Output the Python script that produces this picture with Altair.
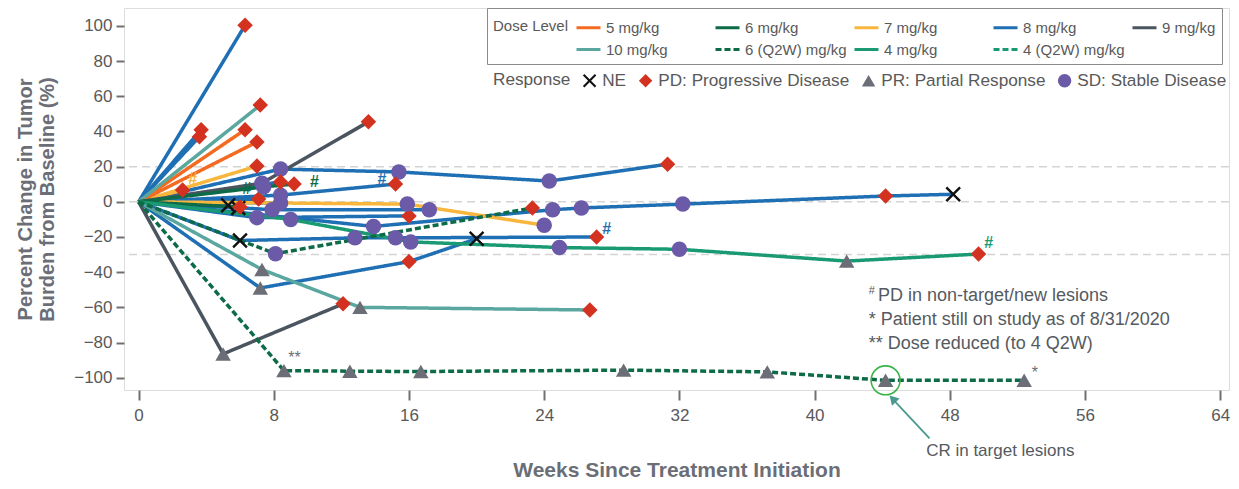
import altair as alt
import pandas as pd

FONT = "Liberation Sans"

# ---------------- categories / styles ----------------
DOSES = ["5 mg/kg", "6 mg/kg", "7 mg/kg", "8 mg/kg", "9 mg/kg",
         "10 mg/kg", "6 (Q2W) mg/kg", "4 mg/kg", "4 (Q2W) mg/kg"]
DOSE_COLORS = ["#f26b21", "#0e6b47", "#f8b63c", "#1f6fb4", "#4b5560",
               "#5aa7a0", "#0e6b47", "#199a72", "#199a72"]
DOSE_DASH = [[1, 0], [1, 0], [1, 0], [1, 0], [1, 0], [1, 0], [6, 3], [1, 0], [6, 3]]

RESP_CODES = ["NE", "PD", "PR", "SD"]
RESP = ["NE", "PD: Progressive Disease", "PR: Partial Response", "SD: Stable Disease"]
RESP_COLORS = ["#111111", "#d2321f", "#6b6e76", "#6a5aa8"]
X_PATH = ("M-1,-0.78L-0.78,-1L0,-0.22L0.78,-1L1,-0.78L0.22,0L1,0.78L0.78,1"
          "L0,0.22L-0.78,1L-1,0.78L-0.22,0Z")
RESP_SHAPES = [X_PATH, "diamond", "triangle-up", "circle"]

X_TICKS = [0, 8, 16, 24, 32, 40, 48, 56, 64]
Y_TICKS = [-100, -80, -60, -40, -20, 0, 20, 40, 60, 80, 100]
GRID_Y = [20, 0, -30]

# ---------------- patient series (weeks, % change, response) ----------------
# 8 mg/kg
B01_W = [0, 6.3];   B01_Y = [0, 100.4]; B01_R = [None, "PD"]
B02_W = [0, 3.7];   B02_Y = [0, 41];    B02_R = [None, "PD"]
B03_W = [0, 3.6];   B03_Y = [0, 37];    B03_R = [None, "PD"]
B04_W = [0, 8.4, 15.4, 24.3, 31.3]; B04_Y = [0, 18.6, 17, 11.8, 21.4]; B04_R = [None, "SD", "SD", "SD", "PD"]
B05_W = [0, 8.4, 15.2]; B05_Y = [0, 3.8, 10.1]; B05_R = [None, "SD", "PD"]
B06_W = [0, 7.9, 17.2]; B06_Y = [0, -4.5, -4.5]; B06_R = [None, "SD", "SD"]
B07_W = [0, 7.0, 16.0]; B07_Y = [0, -9, -8]; B07_R = [None, "SD", "PD"]
B08_W = [0, 13.9, 24.5, 26.2, 32.2, 44.2, 48.2]
B08_Y = [0, -14, -4.5, -3.5, -1.3, 3.3, 4.3]
B08_R = [None, "SD", "SD", "SD", "SD", "PD", "NE"]
B09_W = [0, 6.0, 12.8, 15.2, 27.1]; B09_Y = [0, -22, -20.5, -20.5, -20]; B09_R = [None, "NE", "SD", "SD", "PD"]
B10_W = [0, 7.2, 16.0, 20.0]; B10_Y = [0, -49, -34, -21]; B10_R = [None, "PR", "PD", "NE"]
B11_W = [0, 5.3]; B11_Y = [0, -2];   B11_R = [None, "NE"]
B12_W = [0, 5.9]; B12_Y = [0, -3.5]; B12_R = [None, "NE"]
B13_W = [0, 7.1]; B13_Y = [0, 1.6];  B13_R = [None, "PD"]
B14_W = [0, 8.4]; B14_Y = [0, 11.3]; B14_R = [None, "PD"]
B15_W = [0, 8.4]; B15_Y = [0, -0.7]; B15_R = [None, "SD"]
# 7 mg/kg
Y01_W = [0, 7.0]; Y01_Y = [0, 20.3]; Y01_R = [None, "PD"]
Y02_W = [0, 2.6]; Y02_Y = [0, 6.7];  Y02_R = [None, "PD"]
Y03_W = [0, 15.9, 24.0]; Y03_Y = [0, -1.3, -13.3]; Y03_R = [None, "SD", "SD"]
# 5 mg/kg
O01_W = [0, 6.3]; O01_Y = [0, 41]; O01_R = [None, "PD"]
O02_W = [0, 7.0]; O02_Y = [0, 34]; O02_R = [None, "PD"]
# 10 mg/kg
T01_W = [0, 7.2]; T01_Y = [0, 55]; T01_R = [None, "PD"]
T02_W = [0, 7.3, 13.1, 26.7]; T02_Y = [0, -38.5, -60, -61.5]; T02_R = [None, "PR", "PR", "PD"]
# 9 mg/kg
G01_W = [0, 7.3, 13.6]; G01_Y = [0, 10.6, 45.5]; G01_R = [None, "SD", "PD"]
G02_W = [0, 5.0, 12.1]; G02_Y = [0, -86.5, -58]; G02_R = [None, "PR", "PD"]
# 6 mg/kg
D01_W = [0, 7.4, 9.2]; D01_Y = [0, 8.5, 10.1]; D01_R = [None, "SD", "PD"]
D02_W = [0, 6.0]; D02_Y = [0, -3]; D02_R = [None, "PD"]
# 4 mg/kg
F01_W = [0, 9.0, 16.1, 24.9, 32.0, 41.9, 49.7]
F01_Y = [0, -10, -22.8, -26, -27, -33.7, -29.7]
F01_R = [None, "SD", "SD", "SD", "SD", "PR", "PD"]
# 6 (Q2W) mg/kg
Q01_W = [0, 8.1, 23.3]; Q01_Y = [0, -29.5, -3.5]; Q01_R = [None, "SD", "PD"]
Q02_W = [0, 8.6, 12.5, 16.7, 28.7, 37.2, 44.2, 52.4]
Q02_Y = [0, -96, -96.3, -96.5, -95.7, -96.7, -101.5, -101.5]
Q02_R = [None, "PR", "PR", "PR", "PR", "PR", "PR", "PR"]

PATIENTS = [
    ("B01", "8 mg/kg", B01_W, B01_Y, B01_R), ("B02", "8 mg/kg", B02_W, B02_Y, B02_R),
    ("B03", "8 mg/kg", B03_W, B03_Y, B03_R), ("B04", "8 mg/kg", B04_W, B04_Y, B04_R),
    ("B05", "8 mg/kg", B05_W, B05_Y, B05_R), ("B06", "8 mg/kg", B06_W, B06_Y, B06_R),
    ("B07", "8 mg/kg", B07_W, B07_Y, B07_R), ("B08", "8 mg/kg", B08_W, B08_Y, B08_R),
    ("B09", "8 mg/kg", B09_W, B09_Y, B09_R), ("B10", "8 mg/kg", B10_W, B10_Y, B10_R),
    ("B11", "8 mg/kg", B11_W, B11_Y, B11_R), ("B12", "8 mg/kg", B12_W, B12_Y, B12_R),
    ("B13", "8 mg/kg", B13_W, B13_Y, B13_R), ("B14", "8 mg/kg", B14_W, B14_Y, B14_R),
    ("B15", "8 mg/kg", B15_W, B15_Y, B15_R),
    ("Y01", "7 mg/kg", Y01_W, Y01_Y, Y01_R), ("Y02", "7 mg/kg", Y02_W, Y02_Y, Y02_R),
    ("Y03", "7 mg/kg", Y03_W, Y03_Y, Y03_R),
    ("O01", "5 mg/kg", O01_W, O01_Y, O01_R), ("O02", "5 mg/kg", O02_W, O02_Y, O02_R),
    ("T01", "10 mg/kg", T01_W, T01_Y, T01_R), ("T02", "10 mg/kg", T02_W, T02_Y, T02_R),
    ("G01", "9 mg/kg", G01_W, G01_Y, G01_R), ("G02", "9 mg/kg", G02_W, G02_Y, G02_R),
    ("D01", "6 mg/kg", D01_W, D01_Y, D01_R), ("D02", "6 mg/kg", D02_W, D02_Y, D02_R),
    ("F01", "4 mg/kg", F01_W, F01_Y, F01_R),
    ("Q01", "6 (Q2W) mg/kg", Q01_W, Q01_Y, Q01_R), ("Q02", "6 (Q2W) mg/kg", Q02_W, Q02_Y, Q02_R),
]

# "#" markers (PD in non-target/new lesions)
HASH_W = [3.2, 6.4, 10.4, 14.4, 27.7, 50.3]
HASH_Y = [12.9, 7.4, 11.3, 12.9, -15.5, -23.4]
HASH_C = ["#f8b63c", "#0e6b47", "#0e6b47", "#1f6fb4", "#1f6fb4", "#199a72"]

# footnotes
NOTE_TEXT = ["PD in non-target/new lesions", "* Patient still on study as of 8/31/2020",
             "** Dose reduced (to 4 Q2W)"]
NOTE_W = [43.75, 43.2, 43.2]
NOTE_Y = [-53.6, -67.2, -80.8]
SUP_HASH_W = [43.2]
SUP_HASH_Y = [-50.5]

STAR_TEXT = ["**", "*"]
STAR_W = [8.85, 52.85]
STAR_Y = [-89.0, -97.5]

CR_CIRCLE_W = [44.2]; CR_CIRCLE_Y = [-101.5]
ARROW_W = [44.75]; ARROW_Y = [-113.5]; ARROW_W2 = [46.8]; ARROW_Y2 = [-134.5]
ARROW_HEAD_W = [44.62]; ARROW_HEAD_Y = [-112.0]
CR_TEXT = ["CR in target lesions"]; CR_W = [46.6]; CR_Y = [-141.7]

XMIN, XMAX = -0.864, 64.52
YMIN, YMAX = -107.0, 110.2

# ---------------- build tables ----------------
RESP_NAME = dict(zip(RESP_CODES, RESP))
rows = []
for pid, dose, W, Yv, R in PATIENTS:
    for i, (w, y, r) in enumerate(zip(W, Yv, R)):
        rows.append(dict(pid=pid, dose=dose, week=w, pct=y, seq=i,
                         resp=RESP_NAME[r] if r else None))
df = pd.DataFrame(rows)
pts = df[df["resp"].notna()].copy()

AX_TITLE_COLOR = "#6b6e76"
LABEL_COLOR = "#595959"

X = alt.X("week:Q", scale=alt.Scale(domain=[XMIN, XMAX], nice=False, zero=False),
          axis=alt.Axis(values=X_TICKS, title="Weeks Since Treatment Initiation",
                        grid=False, domain=False, tickSize=10, tickWidth=2, tickColor="#707070",
                        labelFontSize=17, labelColor=LABEL_COLOR, labelPadding=7,
                        titleFontSize=21, titleFontWeight="bold", titleColor=AX_TITLE_COLOR,
                        titleBaseline="alphabetic", titleY=86, labelFont=FONT, titleFont=FONT))
Y = alt.Y("pct:Q", scale=alt.Scale(domain=[YMIN, YMAX], nice=False, zero=False),
          axis=alt.Axis(values=Y_TICKS, title=["Percent Change in Tumor", "Burden from Baseline (%)"],
                        grid=False, domain=False, tickSize=8, tickWidth=2, tickColor="#707070",
                        labelFontSize=17, labelColor=LABEL_COLOR, labelPadding=4,
                        titleFontSize=20, titleFontWeight="bold", titleColor=AX_TITLE_COLOR,
                        titlePadding=16, labelFont=FONT, titleFont=FONT))

dose_legend = alt.Legend(
    title="Dose Level", orient="none", legendX=363, legendY=0, direction="horizontal",
    columns=5, gridAlign="all", columnPadding=1, rowPadding=0, titleOrient="left",
    titleAnchor="start", titleBaseline="line-top", titleLineHeight=26,
    titlePadding=6, symbolType="stroke", symbolSize=576, symbolStrokeWidth=3,
    labelOffset=4, labelFontSize=15, titleFontSize=15, titleFontWeight="normal",
    titleColor=LABEL_COLOR, labelColor=LABEL_COLOR, strokeColor="#8a8a8a",
    fillColor="white", padding=6, labelFont=FONT, titleFont=FONT, labelLimit=300)

resp_legend = alt.Legend(
    title="Response", orient="none", legendX=369, legendY=64, direction="horizontal",
    titleOrient="left", titlePadding=10, columnPadding=10, symbolSize=180,
    labelOffset=4, labelFontSize=17.2, titleFontSize=17.2, titleFontWeight="normal",
    titleColor=LABEL_COLOR, labelColor=LABEL_COLOR, symbolStrokeWidth=0, padding=0,
    labelFont=FONT, titleFont=FONT, labelLimit=300)

grid = alt.Chart(pd.DataFrame({"pct": GRID_Y})).mark_rule(
    color="#d4d4d4", strokeWidth=1.5, strokeDash=[8, 5]).encode(y=Y)

lines = alt.Chart(df).mark_line(strokeWidth=3.5).encode(
    x=X, y=Y,
    color=alt.Color("dose:N", scale=alt.Scale(domain=DOSES, range=DOSE_COLORS), legend=dose_legend),
    strokeDash=alt.StrokeDash("dose:N", scale=alt.Scale(domain=DOSES, range=DOSE_DASH), legend=dose_legend),
    detail="pid:N",
    order="seq:Q",
)

points = alt.Chart(pts).mark_point(filled=True, opacity=1, size=240, strokeWidth=0).encode(
    x=X, y=Y,
    shape=alt.Shape("resp:N", scale=alt.Scale(domain=RESP, range=RESP_SHAPES), legend=resp_legend),
    fill=alt.Fill("resp:N", scale=alt.Scale(domain=RESP, range=RESP_COLORS), legend=resp_legend),
)

hash_df = pd.DataFrame({"week": HASH_W, "pct": HASH_Y, "c": HASH_C})
hash_layers = []
for c in dict.fromkeys(HASH_C):
    hash_layers.append(
        alt.Chart(hash_df[hash_df["c"] == c]).mark_text(
            text="#", color=c, fontSize=16, fontWeight="bold", font=FONT).encode(x=X, y=Y))

notes = alt.Chart(pd.DataFrame({"week": NOTE_W, "pct": NOTE_Y, "t": NOTE_TEXT})).mark_text(
    align="left", baseline="middle", fontSize=18, color="#555a60", font=FONT).encode(x=X, y=Y, text="t:N")
sup = alt.Chart(pd.DataFrame({"week": SUP_HASH_W, "pct": SUP_HASH_Y})).mark_text(
    text="#", align="left", baseline="middle", fontSize=11, color="#555a60", font=FONT).encode(x=X, y=Y)
stars = alt.Chart(pd.DataFrame({"week": STAR_W, "pct": STAR_Y, "t": STAR_TEXT})).mark_text(
    align="left", baseline="middle", fontSize=16, color="#6b6e76", font=FONT).encode(x=X, y=Y, text="t:N")

cr_circle = alt.Chart(pd.DataFrame({"week": CR_CIRCLE_W, "pct": CR_CIRCLE_Y})).mark_point(
    shape="circle", size=840, filled=False, stroke="#3cb44b", strokeWidth=1.6, opacity=1).encode(x=X, y=Y)
arrow = alt.Chart(pd.DataFrame({"week": ARROW_W, "pct": ARROW_Y, "w2": ARROW_W2, "p2": ARROW_Y2})).mark_rule(
    color="#4a9a8f", strokeWidth=1.8).encode(x=X, y=Y, x2="w2:Q", y2="p2:Q")
arrow_head = alt.Chart(pd.DataFrame({"week": ARROW_HEAD_W, "pct": ARROW_HEAD_Y})).mark_point(
    shape="triangle-up", angle=317, size=110, filled=True, color="#4a9a8f", opacity=1).encode(x=X, y=Y)
cr_text = alt.Chart(pd.DataFrame({"week": CR_W, "pct": CR_Y, "t": CR_TEXT})).mark_text(
    align="left", baseline="middle", fontSize=17, color="#555a60", font=FONT).encode(x=X, y=Y, text="t:N")

chart = alt.layer(grid, lines, points, *hash_layers, notes, sup, stars,
                  cr_circle, arrow, arrow_head, cr_text).properties(
    width=1105, height=382,
    autosize=alt.AutoSizeParams(type="none"),
    padding={"left": 116, "top": 0, "right": 2, "bottom": 89},
).configure_view(stroke="#707070", strokeWidth=2).configure(font=FONT, background="white")

chart.save("out.html", embed_options={"renderer": "svg", "actions": False})
